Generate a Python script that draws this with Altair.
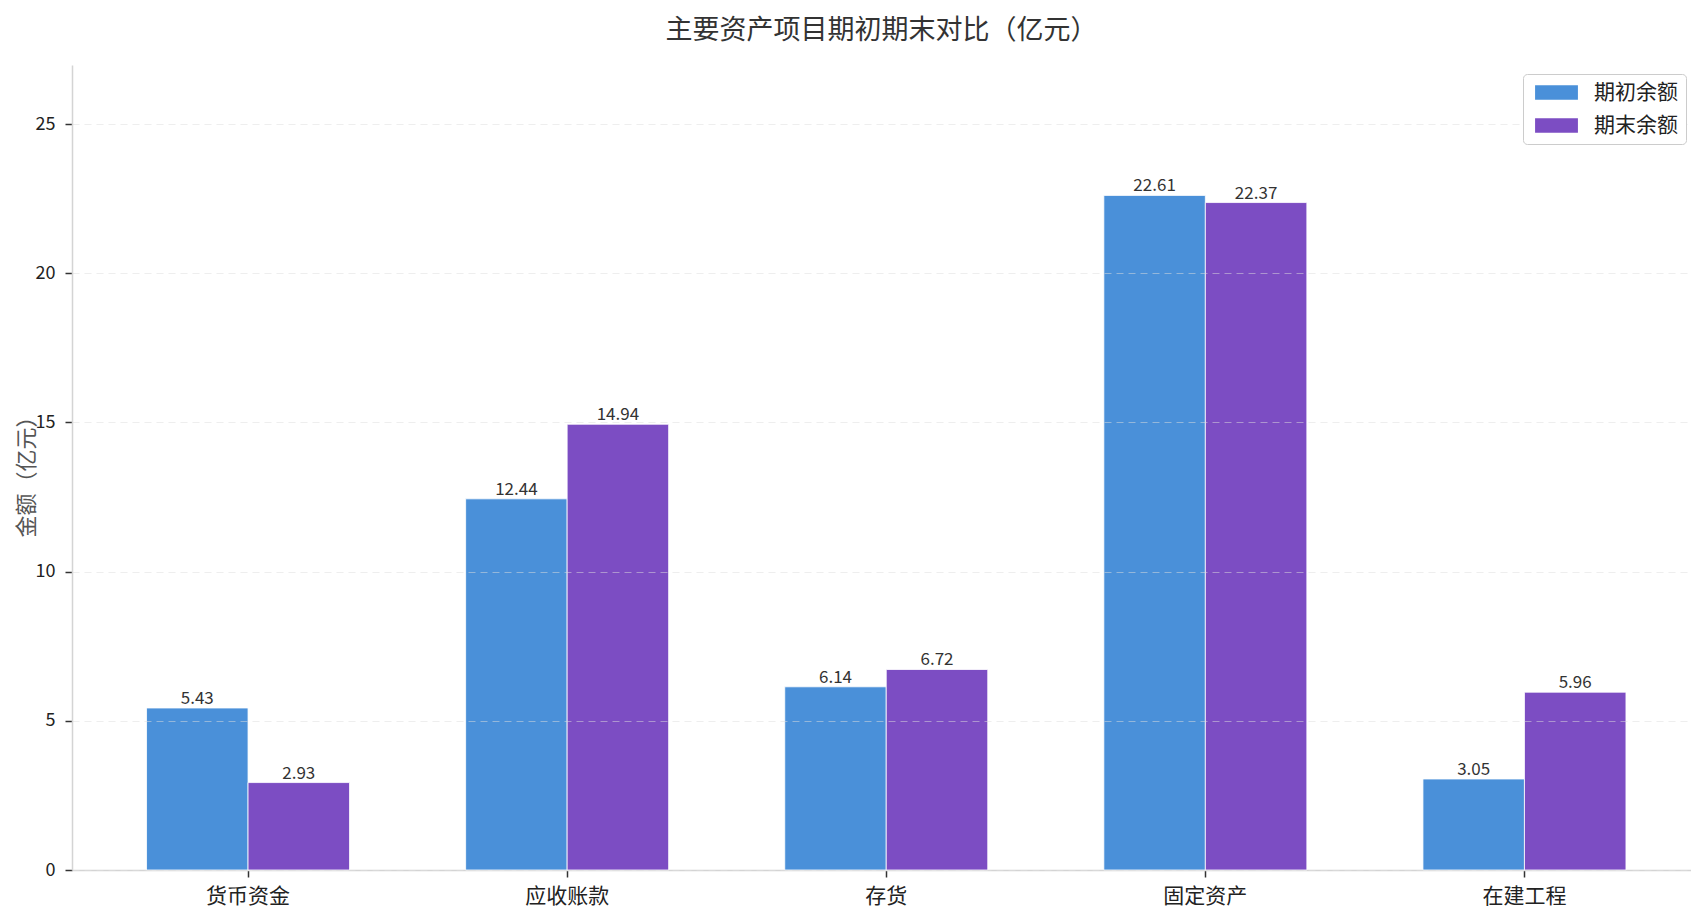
import altair as alt
import pandas as pd

categories = ["货币资金", "应收账款", "存货", "固定资产", "在建工程"]
series_names = ["期初余额", "期末余额"]
begin_values = [5.43, 12.44, 6.14, 22.61, 3.05]
end_values = [2.93, 14.94, 6.72, 22.37, 5.96]
colors = ["#4A90D9", "#7C4DC3"]
y_ticks = [0, 5, 10, 15, 20, 25]

rows = []
for c, b, e in zip(categories, begin_values, end_values):
    rows.append({"项目": c, "类型": series_names[0], "金额": b})
    rows.append({"项目": c, "类型": series_names[1], "金额": e})
df = pd.DataFrame(rows)

FONT = "Noto Sans CJK SC"

x_enc = alt.X(
    "项目:N",
    sort=categories,
    title=None,
    scale=alt.Scale(paddingInner=0.3638, paddingOuter=0.2187, align=0.534),
    axis=alt.Axis(
        labelAngle=0,
        labelFontSize=21,
        labelFont=FONT,
        labelColor="#222222",
        labelPadding=8,
        tickSize=7,
        tickWidth=1.5,
        tickColor="#333333",
        domainColor="#d4d4d4",
        domainWidth=1.5,
        grid=False,
    ),
)
xoff_enc = alt.XOffset("类型:N", sort=series_names, scale=alt.Scale(paddingInner=0, paddingOuter=0))
y_enc = alt.Y(
    "金额:Q",
    title="金额（亿元）",
    scale=alt.Scale(domain=[0, 26.98], nice=False, zero=True),
    axis=alt.Axis(
        values=y_ticks,
        labelFontSize=18,
        labelFont=FONT,
        labelColor="#222222",
        labelPadding=10,
        tickSize=7,
        tickWidth=1.5,
        tickColor="#333333",
        domainColor="#d4d4d4",
        domainWidth=1.5,
        grid=True,
        gridColor="#dddddd",
        gridOpacity=0.5,
        gridDash=[7, 5],
        gridWidth=1,
        titleFont=FONT,
        titleFontSize=22,
        titleFontWeight="normal",
        titleColor="#555555",
        titlePadding=-3,
        titleY=406,
        zindex=1,
    ),
)
color_enc = alt.Color(
    "类型:N",
    sort=series_names,
    scale=alt.Scale(domain=series_names, range=colors),
    legend=alt.Legend(
        title=None,
        orient="none",
        legendX=1451,
        legendY=9,
        zindex=5,
        symbolType="M-3,-1L3,-1L3,1L-3,1Z",
        symbolSize=204,
        symbolOffset=15,
        symbolStrokeWidth=0,
        symbolOpacity=1,
        labelFont=FONT,
        labelFontSize=21,
        labelColor="#222222",
        labelOffset=27,
        rowPadding=11,
        padding=8,
        strokeColor="#cccccc",
        fillColor="white",
        cornerRadius=4,
    ),
)

bars = alt.Chart(df).mark_bar(stroke="white", strokeWidth=1, strokeOpacity=0.8).encode(
    x=x_enc, xOffset=xoff_enc, y=y_enc, color=color_enc
)

labels = alt.Chart(df).mark_text(
    baseline="alphabetic", dy=-4, fontSize=17, font=FONT, color="#333333"
).encode(
    x=alt.X("项目:N", sort=categories),
    xOffset=alt.XOffset("类型:N", sort=series_names),
    y="金额:Q",
    text=alt.Text("金额:Q", format=".2f"),
)

chart = alt.layer(bars, labels).properties(
    width=1619,
    height=805,
    padding={"left": 64, "top": 57, "right": 0, "bottom": 40},
    autosize=alt.AutoSizeParams(type="none"),
    title=alt.TitleParams(
        "主要资产项目期初期末对比（亿元）",
        font=FONT,
        fontSize=27,
        fontWeight="normal",
        color="#333333",
        anchor="middle",
        offset=20,
    ),
).configure_view(stroke=None)

chart.save("out.html", embed_options={"renderer": "svg", "actions": False})
